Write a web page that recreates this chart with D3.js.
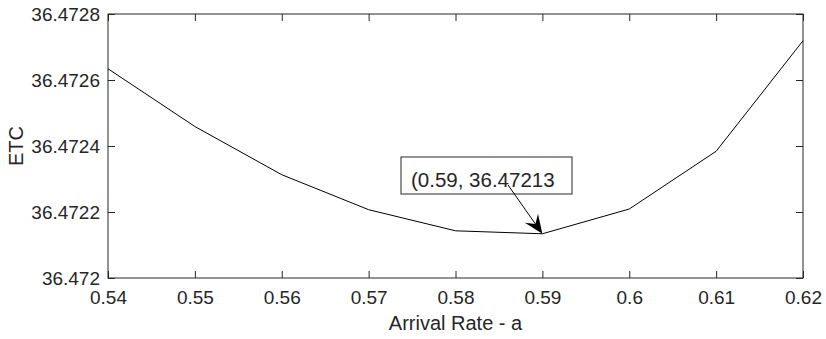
<!DOCTYPE html>
<html>
<head>
<meta charset="utf-8">
<script src="https://cdn.jsdelivr.net/npm/d3@7"></script>
<style>
  html, body { margin: 0; padding: 0; background: #fff; }
  svg { display: block; }
  text { font-family: "Liberation Sans", Arial, sans-serif; fill: #262626; }
</style>
</head>
<body>
<svg id="chart" width="826" height="339"></svg>
<script>
// Expected total cost versus arrival rate
const arrivalRates = [0.54, 0.55, 0.56, 0.57, 0.58, 0.59, 0.60, 0.61, 0.62];
const etcValues = [36.472634, 36.472459, 36.472313, 36.472207, 36.472143, 36.472134, 36.472209, 36.472384, 36.472719];
const xTicks = [0.54, 0.55, 0.56, 0.57, 0.58, 0.59, 0.60, 0.61, 0.62];
const yTicks = [36.4720, 36.4722, 36.4724, 36.4726, 36.4728];
const tipIndex = 5;
const tipLabel = "(0.59, 36.47213";

const svg = d3.select("#chart");
const margin = { left: 108, right: 23, top: 14, bottom: 61 };
const W = 826, H = 339;
const x0 = margin.left, x1 = W - margin.right, y0 = margin.top, y1 = H - margin.bottom;

const x = d3.scaleLinear().domain([0.54, 0.62]).range([x0, x1]);
const y = d3.scaleLinear().domain([36.4720, 36.4728]).range([y1, y0]);

const fmtY = d3.format(".4~f");
const fmtX = d3.format(".2~f");
const tick = 7;
const tickFont = 19;

function styleAxis(g) {
  g.select(".domain").remove();
  g.selectAll("line").attr("stroke", "#262626");
  g.selectAll("text").attr("font-size", tickFont).style("fill", "#262626")
    .attr("font-family", "Liberation Sans, Arial, sans-serif");
}

// labelled axes, ticks pointing inward
svg.append("g").attr("transform", `translate(0,${y1})`)
  .call(d3.axisBottom(x).tickValues(xTicks).tickFormat(fmtX).tickSizeInner(-tick).tickSizeOuter(0).tickPadding(13))
  .call(styleAxis);
svg.append("g").attr("transform", `translate(${x0},0)`)
  .call(d3.axisLeft(y).tickValues(yTicks).tickFormat(fmtY).tickSizeInner(-tick).tickSizeOuter(0).tickPadding(8))
  .call(styleAxis);
// mirrored tick marks on top and right
svg.append("g").attr("transform", `translate(0,${y0})`)
  .call(d3.axisTop(x).tickValues(xTicks).tickFormat("").tickSizeInner(-tick).tickSizeOuter(0))
  .call(styleAxis);
svg.append("g").attr("transform", `translate(${x1},0)`)
  .call(d3.axisRight(y).tickValues(yTicks).tickFormat("").tickSizeInner(-tick).tickSizeOuter(0))
  .call(styleAxis);

// plot box
svg.append("rect")
  .attr("x", x0).attr("y", y0).attr("width", x1 - x0).attr("height", y1 - y0)
  .attr("fill", "none").attr("stroke", "#262626").attr("stroke-width", 1);

// data line
const line = d3.line().x((d, i) => x(arrivalRates[i])).y(d => y(d));
svg.append("path").datum(etcValues)
  .attr("d", line).attr("fill", "none").attr("stroke", "#000").attr("stroke-width", 1);

// axis titles
svg.append("text").attr("x", (x0 + x1) / 2).attr("y", 330)
  .attr("text-anchor", "middle").attr("font-size", 20).text("Arrival Rate - a");
svg.append("text").attr("transform", `translate(23,${(y0 + y1) / 2}) rotate(-90)`)
  .attr("text-anchor", "middle").attr("font-size", 20).text("ETC");

// annotation pointing at the minimum
const tx = x(arrivalRates[tipIndex]), ty = y(etcValues[tipIndex]);
const box = { x: 401, y: 157, w: 171, h: 37 };
svg.append("rect").attr("x", box.x).attr("y", box.y).attr("width", box.w).attr("height", box.h)
  .attr("fill", "#fff").attr("stroke", "#262626").attr("stroke-width", 1);
svg.append("text").attr("x", box.x + 10).attr("y", box.y + 30)
  .attr("font-size", 20.5).text(tipLabel);

const sx = 508, sy = 185;
const ang = Math.atan2(ty - sy, tx - sx);
const hl = 19, hw = 8, back = 12;
const ux = Math.cos(ang), uy = Math.sin(ang), px = -uy, py = ux;
const bx = tx - ux * hl, by = ty - uy * hl;
svg.append("line").attr("x1", sx).attr("y1", sy).attr("x2", tx - ux * back).attr("y2", ty - uy * back)
  .attr("stroke", "#000").attr("stroke-width", 1);
svg.append("path")
  .attr("d", `M${tx},${ty} L${bx + px * hw},${by + py * hw} L${tx - ux * back},${ty - uy * back} L${bx - px * hw},${by - py * hw} Z`)
  .attr("fill", "#000");
</script>
</body>
</html>
